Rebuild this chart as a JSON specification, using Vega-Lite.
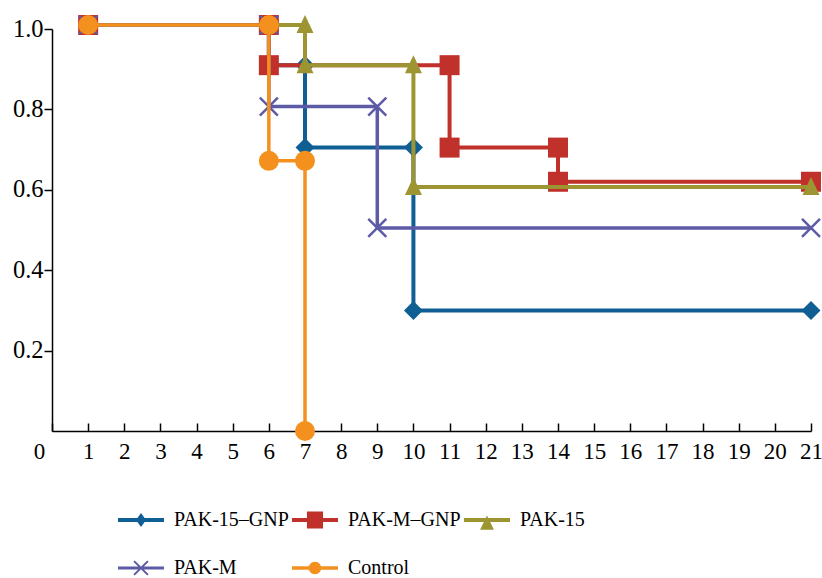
{
  "$schema": "https://vega.github.io/schema/vega-lite/v6.json",
  "width": 759,
  "height": 402,
  "autosize": "none",
  "padding": {"left": 52, "top": 29, "right": 11, "bottom": 147},
  "background": "white",
  "config": {"view": {"stroke": null}, "font": "Liberation Serif"},
  "datasets": {
    "km": [
      {"series": "PAK-15–GNP", "x": 1, "y": 1.01, "i": 0},
      {"series": "PAK-15–GNP", "x": 6, "y": 1.01, "i": 1},
      {"series": "PAK-15–GNP", "x": 6, "y": 0.91, "i": 2},
      {"series": "PAK-15–GNP", "x": 7, "y": 0.91, "i": 3},
      {"series": "PAK-15–GNP", "x": 7, "y": 0.705, "i": 4},
      {"series": "PAK-15–GNP", "x": 10, "y": 0.705, "i": 5},
      {"series": "PAK-15–GNP", "x": 10, "y": 0.3, "i": 6},
      {"series": "PAK-15–GNP", "x": 21, "y": 0.3, "i": 7},
      {"series": "PAK-M–GNP", "x": 1, "y": 1.01, "i": 0},
      {"series": "PAK-M–GNP", "x": 6, "y": 1.01, "i": 1},
      {"series": "PAK-M–GNP", "x": 6, "y": 0.91, "i": 2},
      {"series": "PAK-M–GNP", "x": 11, "y": 0.91, "i": 3},
      {"series": "PAK-M–GNP", "x": 11, "y": 0.705, "i": 4},
      {"series": "PAK-M–GNP", "x": 14, "y": 0.705, "i": 5},
      {"series": "PAK-M–GNP", "x": 14, "y": 0.62, "i": 6},
      {"series": "PAK-M–GNP", "x": 21, "y": 0.62, "i": 7},
      {"series": "PAK-15", "x": 1, "y": 1.01, "i": 0},
      {"series": "PAK-15", "x": 6, "y": 1.01, "i": 1},
      {"series": "PAK-15", "x": 7, "y": 1.01, "i": 2},
      {"series": "PAK-15", "x": 7, "y": 0.91, "i": 3},
      {"series": "PAK-15", "x": 10, "y": 0.91, "i": 4},
      {"series": "PAK-15", "x": 10, "y": 0.607, "i": 5},
      {"series": "PAK-15", "x": 21, "y": 0.607, "i": 6},
      {"series": "PAK-M", "x": 1, "y": 1.01, "i": 0},
      {"series": "PAK-M", "x": 6, "y": 1.01, "i": 1},
      {"series": "PAK-M", "x": 6, "y": 0.807, "i": 2},
      {"series": "PAK-M", "x": 9, "y": 0.807, "i": 3},
      {"series": "PAK-M", "x": 9, "y": 0.505, "i": 4},
      {"series": "PAK-M", "x": 21, "y": 0.505, "i": 5},
      {"series": "Control", "x": 1, "y": 1.01, "i": 0},
      {"series": "Control", "x": 6, "y": 1.01, "i": 1},
      {"series": "Control", "x": 6, "y": 0.672, "i": 2},
      {"series": "Control", "x": 7, "y": 0.672, "i": 3},
      {"series": "Control", "x": 7, "y": 0.0, "i": 4}
    ]
  },
  "data": {"name": "km"},
  "encoding": {
    "x": {
      "field": "x", "type": "quantitative",
      "scale": {"domain": [0, 21], "nice": false, "zero": false},
      "axis": {
        "values": [0,1,2,3,4,5,6,7,8,9,10,11,12,13,14,15,16,17,18,19,20,21],
        "title": null, "grid": false,
        "tickSize": -8, "tickColor": "black", "tickWidth": 1.5,
        "domainColor": "black", "domainWidth": 1.5,
        "labelFont": "Liberation Serif", "labelFontSize": 23, "labelColor": "black",
        "labelPadding": 17, "labelOverlap": false, "labelFlush": false, "labelBound": false,
        "labelOffset": {"condition": {"test": "datum.value === 0", "value": -13}, "value": 0}
      }
    },
    "y": {
      "field": "y", "type": "quantitative",
      "scale": {"domain": [0, 1], "nice": false},
      "axis": {
        "values": [0.2, 0.4, 0.6, 0.8, 1.0], "format": ".1f",
        "title": null, "grid": false,
        "tickSize": 8, "tickColor": "black", "tickWidth": 1.5,
        "domainColor": "black", "domainWidth": 1.5,
        "labelFont": "Liberation Serif", "labelFontSize": 24.5, "labelColor": "black",
        "labelPadding": 1
      }
    },
    "color": {
      "field": "series", "type": "nominal",
      "scale": {
        "domain": ["PAK-15–GNP", "PAK-M–GNP", "PAK-15", "PAK-M", "Control"],
        "range": ["#0f5f95", "#c0312b", "#9c9532", "#5d5ba6", "#f4911e"]
      },
      "legend": {
        "orient": "none", "legendX": 66, "legendY": 468,
        "direction": "horizontal", "columns": 3, "title": null, "padding": 0,
        "symbolSize": 2116, "symbolStrokeWidth": 0,
        "labelFont": "Liberation Serif", "labelFontSize": 20, "labelColor": "black",
        "labelOffset": 10, "columnPadding": 3, "rowPadding": 15, "labelLimit": 300,
        "encode": {
          "symbols": {
            "update": {
              "shape": {"signal": "datum.value === 'PAK-15–GNP' ? 'M-1,-0.087H1V0.087H-1ZM0,-0.3L0.22,0L0,0.3L-0.22,0Z' : datum.value === 'PAK-M–GNP' ? 'M-1,-0.087H1V0.087H-1ZM-0.35,-0.37H0.35V0.37H-0.35Z' : datum.value === 'PAK-15' ? 'M-1,-0.087H1V0.087H-1ZM0,-0.2L0.3,0.42H-0.3Z' : datum.value === 'PAK-M' ? 'M-1,-0.065H1V0.065H-1ZM-0.331,-0.269L-0.269,-0.331L0.331,0.269L0.269,0.331ZM-0.269,0.331L-0.331,0.269L0.269,-0.331L0.331,-0.269Z' : 'M-1,-0.075H1V0.075H-1ZM0.27,0A0.27,0.27,0,1,1,-0.27,0A0.27,0.27,0,1,1,0.27,0Z'"},
              "fill": {"scale": "color", "field": "value"},
              "stroke": {"value": "transparent"},
              "strokeWidth": {"value": 0},
              "opacity": {"value": 1}
            }
          }
        }
      }
    },
    "order": {"field": "i", "type": "quantitative"}
  },
  "layer": [
    {
      "transform": [{"filter": "datum.series === 'PAK-15–GNP'"}],
      "layer": [
        {"mark": {"type": "line", "strokeWidth": 4}},
        {"mark": {"type": "point", "shape": "diamond", "filled": true, "size": 360, "opacity": 1}}
      ]
    },
    {
      "transform": [{"filter": "datum.series === 'PAK-M–GNP'"}],
      "layer": [
        {"mark": {"type": "line", "strokeWidth": 4}},
        {"mark": {"type": "point", "shape": "square", "filled": true, "size": 400, "opacity": 1}}
      ]
    },
    {
      "transform": [{"filter": "datum.series === 'PAK-15'"}],
      "layer": [
        {"mark": {"type": "line", "strokeWidth": 4}},
        {"transform": [{"filter": "datum.x >= 7"}], "mark": {"type": "point", "shape": "M0,-1L0.85,0.8L-0.85,0.8Z", "filled": true, "size": 400, "opacity": 1}}
      ]
    },
    {
      "transform": [{"filter": "datum.series === 'PAK-M'"}],
      "layer": [
        {"mark": {"type": "line", "strokeWidth": 3.5}},
        {"mark": {"type": "point", "shape": "M-1,-1L1,1M-1,1L1,-1", "filled": false, "size": 324, "strokeWidth": 2.5, "opacity": 1}}
      ]
    },
    {
      "transform": [{"filter": "datum.series === 'Control'"}],
      "layer": [
        {"mark": {"type": "line", "strokeWidth": 3.5}},
        {"mark": {"type": "point", "shape": "circle", "filled": true, "size": 400, "opacity": 1}}
      ]
    }
  ]
}
